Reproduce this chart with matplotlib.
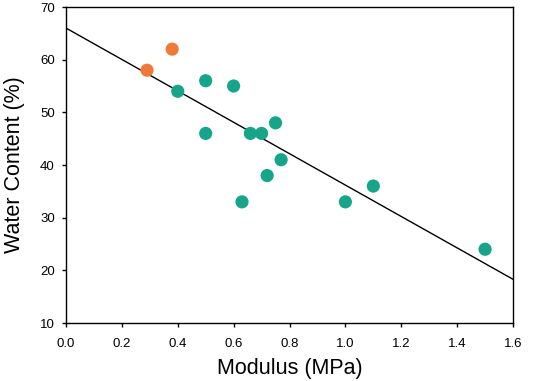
import matplotlib
matplotlib.use('Agg')
import matplotlib.pyplot as plt
import numpy as np

plt.rcParams['font.family'] = ['Liberation Sans', 'DejaVu Sans']

# Data
modulus_orange = [0.29, 0.38]
water_orange = [58, 62]
modulus_green = [0.40, 0.50, 0.50, 0.60, 0.63, 0.66, 0.70, 0.72, 0.75, 0.77, 1.00, 1.10, 1.50]
water_green = [54, 56, 46, 55, 33, 46, 46, 38, 48, 41, 33, 36, 24]

# Fitted line end points
fit_x = [0.0, 1.6]
fit_y = [66.0, 18.3]

fig = plt.figure(figsize=(5.33, 3.81), dpi=100)
ax = fig.add_axes([66 / 533, 1 - 323 / 381, (513 - 66) / 533, (323 - 7) / 381])

ax.plot(fit_x, fit_y, color='black', linewidth=1.0, zorder=2)
ax.scatter(modulus_orange, water_orange, s=90, color='#EE7A3A', edgecolors='none', zorder=3)
ax.scatter(modulus_green, water_green, s=90, color='#16A58A', edgecolors='none', zorder=3)

ax.set_xlim(0, 1.6)
ax.set_ylim(10, 70)
ax.set_xticks(np.arange(0, 1.61, 0.2))
ax.set_yticks(np.arange(10, 71, 10))
ax.xaxis.set_major_formatter(plt.FormatStrFormatter('%.1f'))
ax.tick_params(direction='out', length=3, width=1, labelsize=9.5, top=False, right=False)
ax.tick_params(axis='x', pad=7.5)
ax.tick_params(axis='y', pad=5)
for s in ax.spines.values():
    s.set_linewidth(1.0)

ax.set_xlabel('Modulus (MPa)', fontsize=15.5, labelpad=6)
ax.set_ylabel('Water Content (%)', fontsize=15.5, labelpad=11)

fig.savefig('out.png', dpi=100)
